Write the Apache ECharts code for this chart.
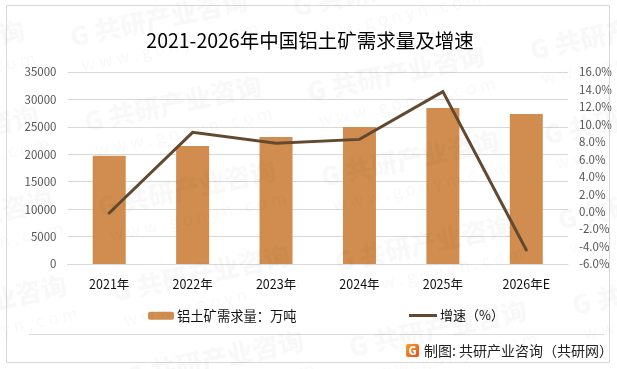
<!DOCTYPE html>
<html><head><meta charset="utf-8">
<style>html,body{margin:0;padding:0;background:#fff}#c{width:617px;height:369px}</style>
<script src="https://cdn.jsdelivr.net/npm/echarts@6/dist/echarts.min.js"></script>
</head><body><div id="c"></div>
<script>
const categories = ['2021年','2022年','2023年','2024年','2025年','2026年E'];
const demand = [19740,21510,23150,24970,28440,27340];
const growth = [-0.16,9.09,7.83,8.28,13.75,-4.4];
const FONT = '"Noto Sans CJK SC","Noto Sans",sans-serif';
const titleText = '2021-2026年中国铝土矿需求量及增速';
const sourceText = '制图: 共研产业咨询（共研网）';

const chart = echarts.init(document.getElementById('c'), null, {renderer:'canvas'});
const wm = [];
const cols = [[-164,-5],[73,50],[296,20],[533,63]];
cols.forEach(c=>{
  for(let j=-1;j<5;j++){
    const x=c[0]+j*14, y=c[1]+j*85;
    wm.push({type:'text',x:x,y:y,rotation:0.21,silent:true,z:50,originX:0,originY:0,
      style:{text:'G 共研产业咨询',font:'900 26px '+FONT,fill:'rgba(0,0,0,0.028)',verticalAlign:'bottom'}});
    wm.push({type:'text',x:x+7,y:y+7,rotation:0.21,silent:true,z:50,originX:0,originY:0,
      style:{text:'w w w . g o n y n . c o m',font:'400 17px '+FONT,fill:'rgba(0,0,0,0.028)',verticalAlign:'top'}});
  }
});
chart.setOption({
  animation:false,
  backgroundColor:'#fff',
  title:{text:titleText,left:305,top:26,textAlign:'center',
    textStyle:{fontFamily:FONT,fontSize:19.5,fontWeight:400,color:'#000'}},
  legend:[
    {data:['铝土矿需求量：万吨'],left:143,top:304,itemWidth:26,itemHeight:8,itemGap:3,
     textStyle:{fontFamily:FONT,fontSize:13.3,color:'#111',padding:[0,0,0,-2]}},
    {data:[{name:'增速（%）',icon:'rect'}],left:404,top:304,itemWidth:28,itemHeight:3,itemGap:2,
     textStyle:{fontFamily:FONT,fontSize:13,color:'#111',padding:[0,0,0,-2]}}
  ],
  grid:{left:67.5,right:49,top:72,bottom:105,containLabel:false},
  xAxis:{type:'category',data:categories,
    axisLine:{lineStyle:{color:'#d9d9d9'}},axisTick:{show:false},
    axisLabel:{fontFamily:FONT,fontSize:12.5,color:'#111',margin:14,interval:0}},
  yAxis:[
    {type:'value',min:0,max:35000,interval:5000,
     axisLine:{show:false},axisTick:{show:false},
     splitLine:{lineStyle:{color:'#d9d9d9',width:1}},
     axisLabel:{fontFamily:FONT,fontSize:11.5,color:'#555',margin:11,formatter:v=>String(v)}},
    {type:'value',min:-6,max:16,interval:2,
     axisLine:{show:false},axisTick:{show:false},splitLine:{show:false},
     axisLabel:{fontFamily:FONT,fontSize:11.5,color:'#555',margin:11,formatter:v=>v.toFixed(1)+'%'}}
  ],
  series:[
    {name:'铝土矿需求量：万吨',type:'bar',data:demand,barWidth:33,itemStyle:{color:'#d18d4f'}},
    {name:'增速（%）',type:'line',yAxisIndex:1,data:growth,symbol:'none',
     lineStyle:{color:'#634930',width:3,cap:'round',join:'miter'},itemStyle:{color:'#634930'},z:5}
  ],
  graphic:{elements:[
    {type:'rect',shape:{x:6.5,y:5.5,width:603,height:357},style:{fill:'none',stroke:'#d9d9d9',lineWidth:1},silent:true,z:1},
    {type:'line',shape:{x1:29,y1:334.5,x2:604,y2:334.5},style:{stroke:'#d9d9d9',lineWidth:1},silent:true,z:1},
    {type:'rect',shape:{x:406,y:344,width:13,height:13,r:2},z:60,silent:true,
     style:{fill:new echarts.graphic.LinearGradient(0,0,1,1,[{offset:0,color:'#f9a12c'},{offset:1,color:'#ea4a1f'}])}},
    {type:'text',x:412.5,y:350.5,z:61,silent:true,style:{text:'G',font:'900 11px '+FONT,fill:'#fff',align:'center',verticalAlign:'middle'}},
    {type:'text',x:424,y:351,z:61,silent:true,style:{text:sourceText,font:'400 14px '+FONT,fill:'#222',verticalAlign:'middle'}},
    ...wm
  ]}
});
</script></body></html>
